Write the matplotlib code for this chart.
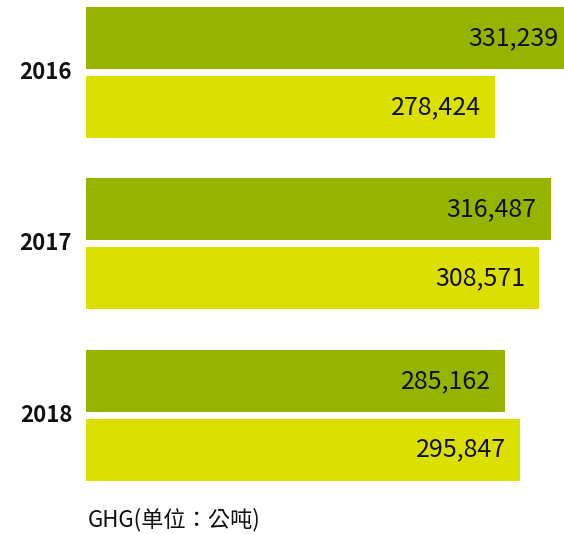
import matplotlib
matplotlib.use("Agg")
import matplotlib.pyplot as plt
import numpy as np

plt.rcParams['font.family'] = ['Noto Sans CJK TC', 'DejaVu Sans']

years = ["2016", "2017", "2018"]
series_a = [331239, 316487, 285162]   # dark green
series_b = [278424, 308571, 295847]   # yellow
color_a = "#96B300"
color_b = "#DCE000"

fig = plt.figure(figsize=(5.64, 5.34), dpi=100)
ax = fig.add_axes([86 / 564, 0, 1 - 86 / 564, 1])

y = np.arange(len(years))
h = 0.362
off = 0.201
ax.barh(y - off, series_a, height=h, color=color_a)
ax.barh(y + off, series_b, height=h, color=color_b)

ax.set_xlim(0, 325600)
ax.set_ylim(2.693, -0.423)
ax.axis("off")

for i in range(len(years)):
    for v, yy in ((series_a[i], y[i] - off), (series_b[i], y[i] + off)):
        ax.annotate(f"{v:,}", xy=(v, yy), xytext=(-10, 0), textcoords="offset points",
                    ha="right", va="center", fontsize=18, color="#111111",
                    annotation_clip=False)
    ax.annotate(years[i], xy=(0, y[i]), xytext=(-10, 0), textcoords="offset points",
                ha="right", va="center", fontsize=16, fontweight="bold", color="#111111",
                annotation_clip=False)

fig.text(88 / 564, 1 - 520 / 534, "GHG(单位：公吨)", ha="left", va="center",
         fontsize=16, color="#111111")

fig.savefig("out.png", dpi=100)
